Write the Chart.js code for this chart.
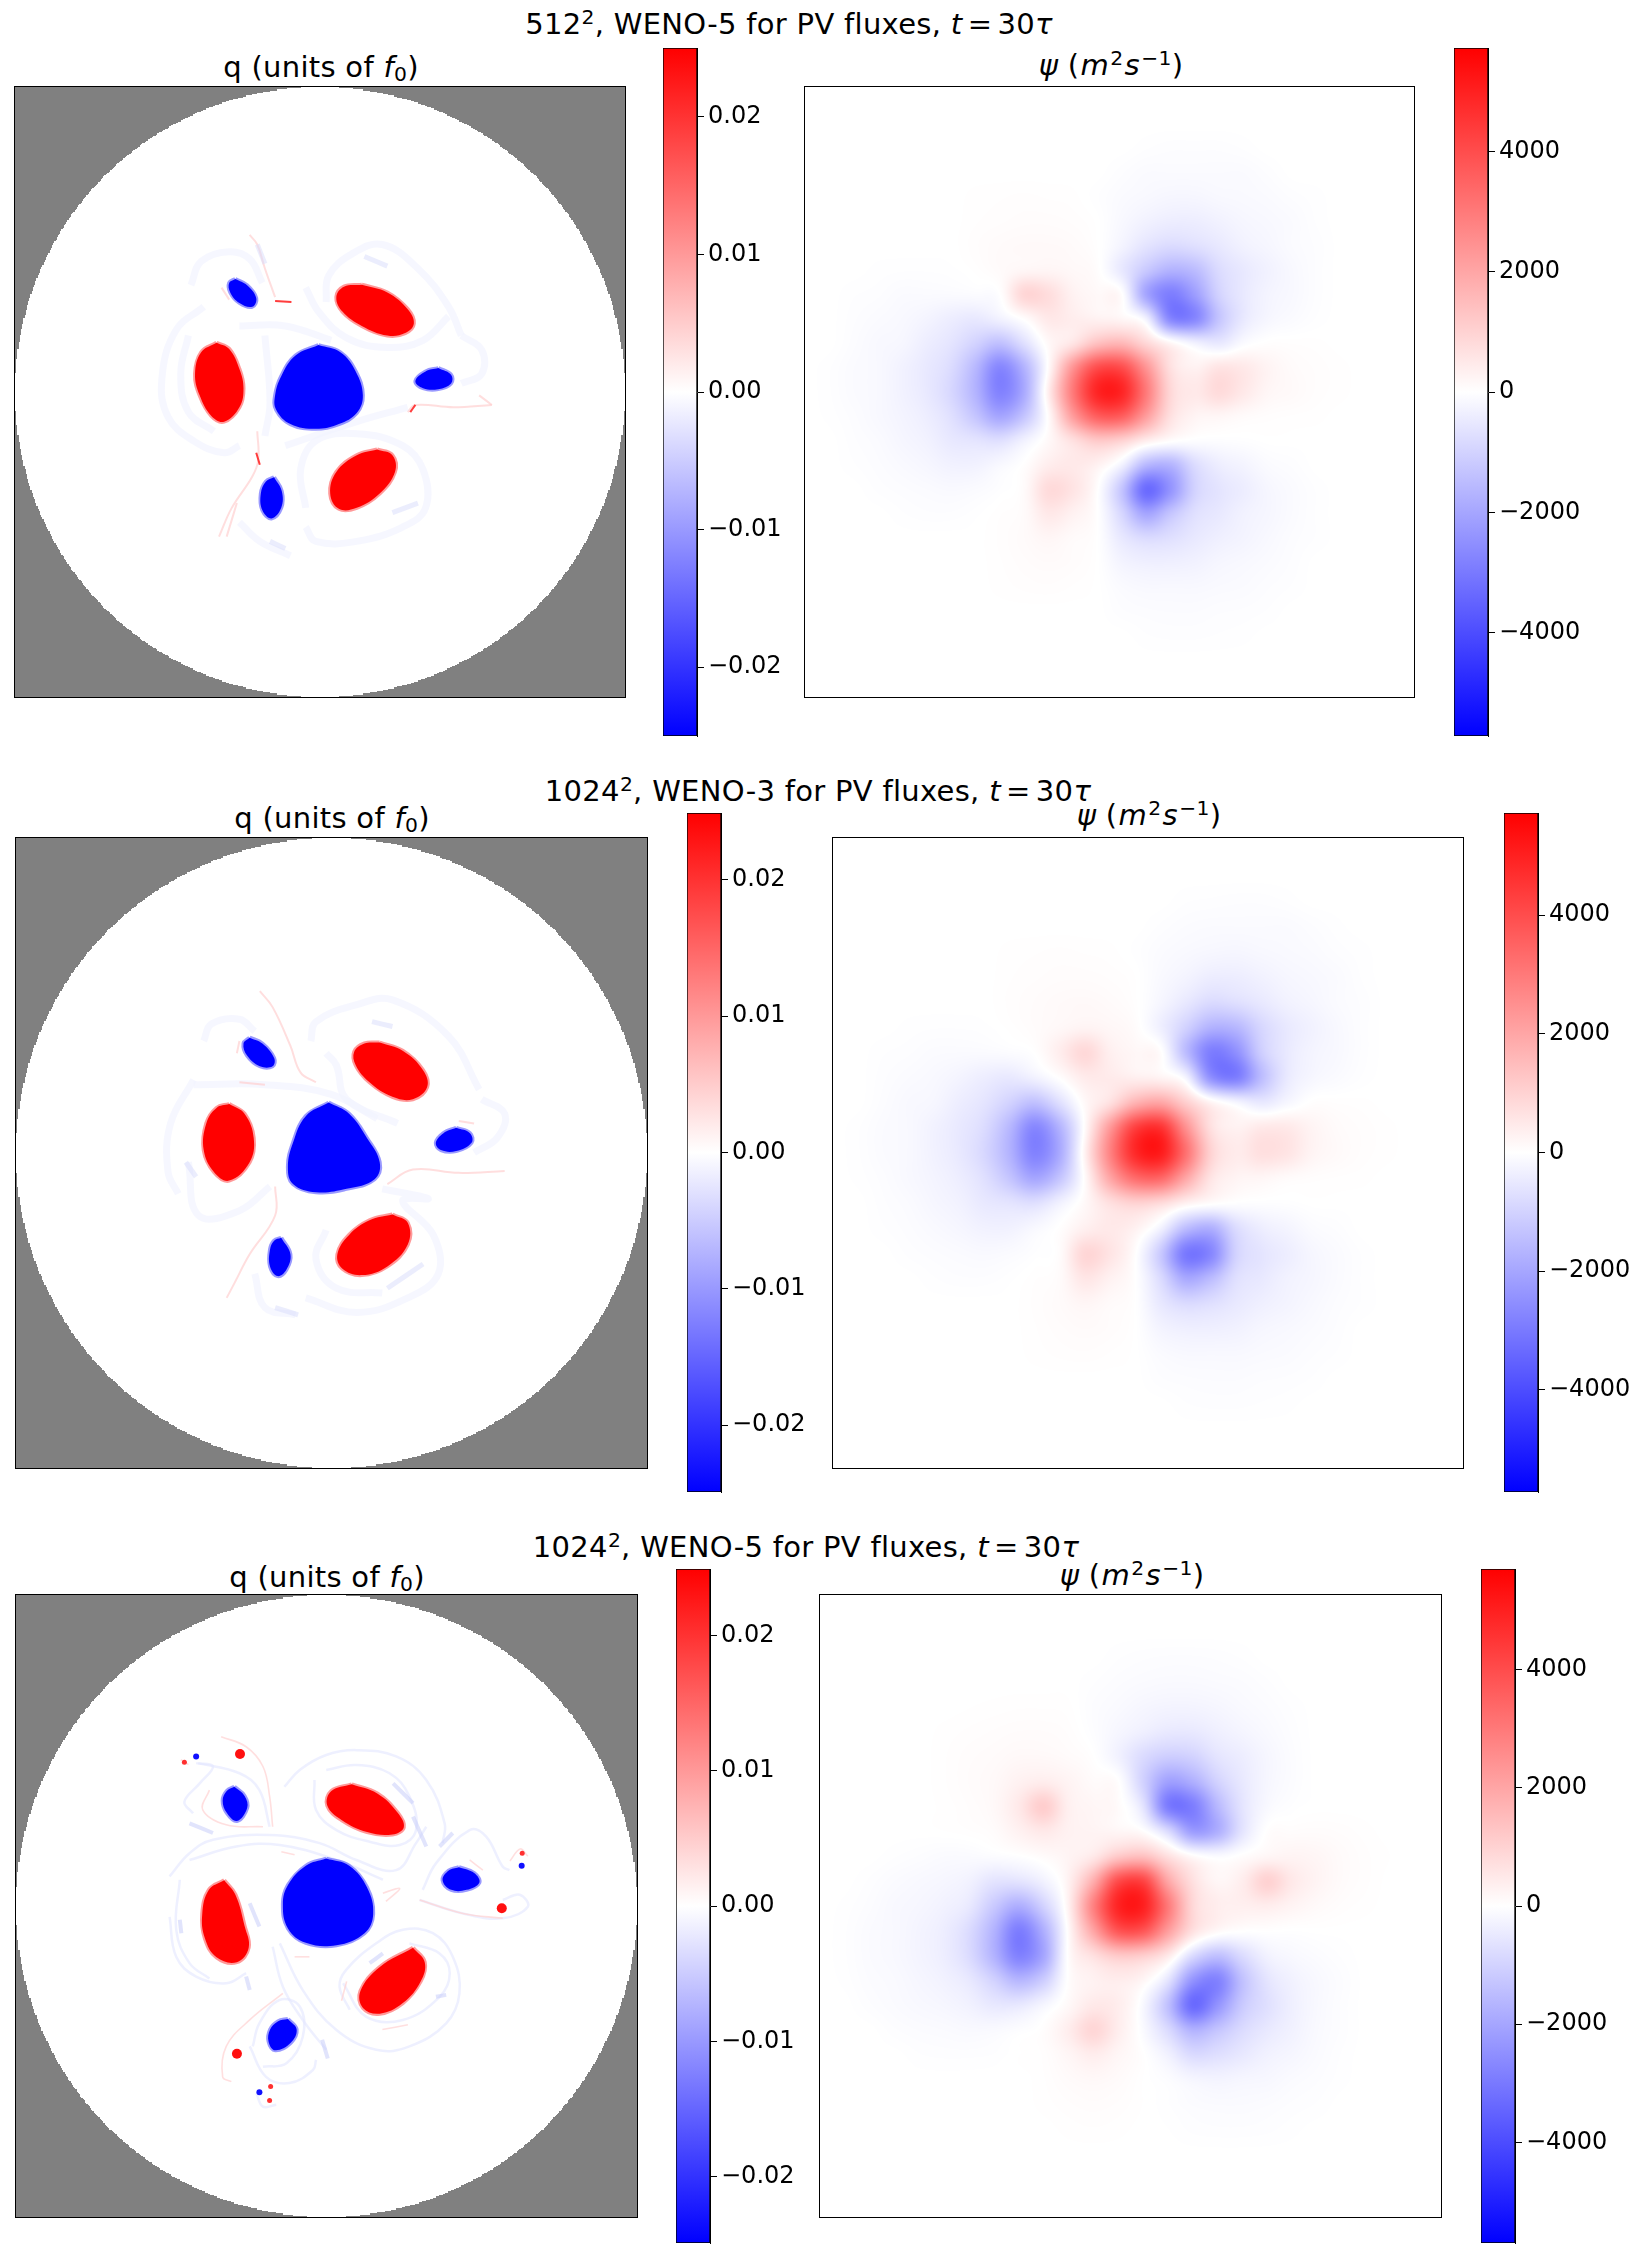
<!DOCTYPE html>
<html>
<head>
<meta charset="utf-8">
<title>PV and streamfunction</title>
<script src="https://cdn.jsdelivr.net/npm/chart.js@4"></script>
<style>
html, body { margin: 0; background: #fff; }
#fig { position: relative; width: 1643px; height: 2255px; overflow: hidden; font-family: "DejaVu Sans", sans-serif; color: #000; }
#fig canvas { position: absolute; }
.txt { position: absolute; transform: translate(-50%, -50%); white-space: nowrap; line-height: 1; }
.big { font-size: 29px; letter-spacing: .3px; }
.txt i { font-style: oblique; }
.txt i.m { margin: 0 .04em; }
.txt b { font-weight: normal; margin: 0 .18em; }
.txt sup { font-size: 70%; line-height: 0; vertical-align: baseline; position: relative; top: -.5em; }
.txt sub { font-size: 70%; line-height: 0; vertical-align: baseline; position: relative; top: .2em; }
</style>
</head>
<body>
<div id="fig"></div>
<script>

// colorbar ticks
var qTicks = [-0.02, -0.01, 0, 0.01, 0.02];
var qTickLabels = ['\u22120.02', '\u22120.01', '0.00', '0.01', '0.02'];
var psiTicks = [-4000, -2000, 0, 2000, 4000];
var psiTickLabels = ['\u22124000', '\u22122000', '0', '2000', '4000'];

// psi grid positions, fractions of the panel (x right, y down)
var gridX = [.04,.08,.12,.16,.20,.24,.28,.32,.36,.40,.44,.48,.52,.56,.60,.64,.68,.72,.76,.80,.84,.88,.92];
var gridY = [.06,.10,.14,.18,.22,.26,.30,.34,.38,.42,.46,.50,.54,.58,.62,.66,.70,.74,.78,.82,.86,.90,.94];

// psi, in units of 100 m2/s
var psi1 = [
[0,0,0,0,0,0,0,0,0,0,0,0,0,0,0,0,0,0,0,0,0,0,0],
[0,0,0,0,0,0,0,0,0,0,0,0,0,-.3,-.5,-.5,-.5,-.3,0,0,0,0,0],
[0,0,0,0,0,0,0,0,0,0,0,0,-.5,-1,-1,-1,-1,-1,-.5,0,0,0,0],
[0,0,0,0,0,0,.2,.3,.4,.3,.2,-.3,-1,-1.5,-2,-2,-1.5,-1.3,-1,-.5,-.2,0,0],
[0,0,0,0,0,0,.3,.5,.7,.7,.5,0,-1.5,-3,-4,-4,-3,-2,-1.5,-1,-.3,0,0],
[0,0,0,0,0,0,.5,1,1.3,1.3,1,.1,-2.5,-6,-8,-7,-5,-3,-2,-1,-.5,0,0],
[0,0,-.2,-.3,-.3,-.2,.2,1,2,2.2,1.5,.5,-5,-12,-17,-15,-8,-5,-3,-1.5,-.5,0,0],
[0,-.3,-.5,-1,-1,-1,-.8,0,9,7.5,3,1.5,.3,-20,-29,-22,-10,-5,-2.5,-1.5,-.5,0,0],
[0,-.5,-1,-1.5,-2.5,-4,-5,-3,.5,5,4,3,2,-3,-27,-27,-13,-5,-2,-1,-.3,0,0],
[0,-.7,-1.5,-2,-4,-6,-10,-14,-7,1.5,6,14,16,9,2,-3,-5,-1,.3,.3,.2,0,0],
[-.3,-1,-1.5,-3,-5,-8,-16,-27,-17,1,24,40,40,24,7,3,6,5,2.5,1,.5,.2,0],
[-.3,-1,-1.5,-3,-5,-9,-17,-28,-19,4,30,49,49,30,9,5,8,5,2,1.2,.5,.2,0],
[-.2,-.7,-1.5,-2.5,-4,-7,-13,-20,-13,1,22,36,36,22,7,2.5,2,1,.5,.3,.2,0,0],
[0,-.5,-1,-2,-3,-5,-6,-7,-3,1.5,7,12,10,4,.5,-.5,-.5,-.3,0,0,0,0,0],
[0,-.3,-.7,-1.3,-2,-3,-3,-1.5,.3,4,5,3,-3,-16,-17,-8,-4,-2.5,-1,-.5,0,0,0],
[0,0,-.4,-.7,-1,-1.3,-1,-.3,1,8,6,.3,-13,-33,-24,-10,-6,-4,-2,-1,-.3,0,0],
[0,0,0,-.3,-.5,-.5,-.2,.3,1,5,3,.1,-9,-20,-13,-7,-5,-3,-2,-1,-.3,0,0],
[0,0,0,0,0,0,0,.4,1,2,1,0,-5,-8,-7,-5,-3.5,-2.5,-1.5,-.7,-.3,0,0],
[0,0,0,0,0,0,0,.3,.7,1,.7,0,-2.5,-3.5,-3.5,-3,-2,-1.5,-1,-.5,0,0,0],
[0,0,0,0,0,0,0,.2,.4,.5,.3,0,-1,-1.5,-1.5,-1.5,-1.2,-1,-.6,-.3,0,0,0],
[0,0,0,0,0,0,0,0,0,0,0,0,-.5,-.7,-.8,-.8,-.6,-.5,-.3,0,0,0,0],
[0,0,0,0,0,0,0,0,0,0,0,0,0,-.3,-.4,-.4,-.3,-.2,0,0,0,0,0],
[0,0,0,0,0,0,0,0,0,0,0,0,0,0,0,0,0,0,0,0,0,0,0]
];
var psi2 = [
[0,0,0,0,0,0,0,0,0,0,0,0,0,0,0,0,0,0,0,0,0,0,0],
[0,0,0,0,0,0,0,0,0,0,0,0,0,-.3,-.4,-.5,-.5,-.3,0,0,0,0,0],
[0,0,0,0,0,0,0,0,0,0,0,0,-.4,-.8,-1,-1,-1,-1,-.6,-.2,0,0,0],
[0,0,0,0,0,0,.2,.3,.4,.3,.2,-.2,-.9,-1.4,-1.8,-2,-1.6,-1.3,-1,-.5,-.2,0,0],
[0,0,0,0,0,0,.3,.5,.7,.7,.5,.1,-1.3,-2.5,-4,-4,-3,-2,-1.5,-1,-.3,0,0],
[0,0,0,0,0,0,.4,.8,1.2,1.4,1,.2,-2,-5,-8,-7,-5,-3,-2,-1,-.5,0,0],
[0,0,-.2,-.3,-.3,-.2,.2,.8,1.6,2.5,1.8,.7,-3.5,-10,-17,-16,-9,-5,-3,-1.5,-.5,0,0],
[0,-.3,-.5,-.9,-1,-1,-.7,.1,4,8.5,3.5,1.8,.5,-15,-29,-25,-11,-5,-2.5,-1.5,-.5,0,0],
[0,-.5,-1,-1.5,-2.5,-4,-5,-3,.4,4.5,4.5,3.5,2.5,-2.5,-25,-29,-15,-5,-2,-1,-.3,0,0],
[0,-.7,-1.5,-2,-4,-6,-10,-14,-7,1.5,7,17,20,11,2.5,-2,-5,-2,.3,.3,.2,0,0],
[-.3,-1,-1.5,-3,-5,-8,-16,-27,-17,1,23,43,46,25,7,3,5,5,2.5,1,.5,.2,0],
[-.3,-1,-1.5,-3,-5,-9,-17,-28,-19,3,28,48,51,32,10,4.5,7,6,2.5,1.2,.5,.2,0],
[-.2,-.7,-1.5,-2.5,-4,-7,-13,-20,-13,1,20,33,34,20,6,2.5,2,1,.5,.3,.2,0,0],
[0,-.5,-1,-2,-3,-5,-6,-7,-3,1.5,7,10,8,3,.5,-.3,-.4,-.3,0,0,0,0,0],
[0,-.3,-.7,-1.3,-2,-3,-3,-1.5,.3,3.5,5,3,-3,-15,-18,-8,-4,-2.5,-1,-.5,0,0,0],
[0,0,-.4,-.7,-1,-1.3,-1,-.3,.8,9,6,.3,-12,-30,-27,-10,-6,-4,-2,-1,-.3,0,0],
[0,0,0,-.3,-.5,-.5,-.2,.3,1,5.5,3,.1,-8,-19,-15,-7,-5,-3,-2,-1,-.3,0,0],
[0,0,0,0,0,0,0,.4,1,2,1,0,-5,-8,-7,-5,-3.5,-2.5,-1.5,-.7,-.3,0,0],
[0,0,0,0,0,0,0,.3,.7,1,.7,0,-2.5,-3.5,-3.5,-3,-2,-1.5,-1,-.5,0,0,0],
[0,0,0,0,0,0,0,.2,.4,.5,.3,0,-1,-1.5,-1.5,-1.5,-1.2,-1,-.6,-.3,0,0,0],
[0,0,0,0,0,0,0,0,0,0,0,0,-.5,-.7,-.8,-.8,-.6,-.5,-.3,0,0,0,0],
[0,0,0,0,0,0,0,0,0,0,0,0,0,-.3,-.4,-.4,-.3,-.2,0,0,0,0,0],
[0,0,0,0,0,0,0,0,0,0,0,0,0,0,0,0,0,0,0,0,0,0,0]
];
var psi3 = [
[0,0,0,0,0,0,0,0,0,0,0,0,0,0,0,0,0,0,0,0,0,0,0],
[0,0,0,0,0,0,0,0,0,0,0,-.3,-.5,-.6,-.6,-.5,-.3,0,0,0,0,0,0],
[0,0,0,0,0,0,0,0,0,0,-.3,-.7,-1,-1.2,-1.2,-1,-.8,-.4,0,0,0,0,0],
[0,0,0,0,0,.1,.2,.3,.3,.2,-.6,-1.2,-2,-2.5,-2.5,-2,-1.3,-.8,-.3,0,0,0,0],
[0,0,0,0,.2,.4,.6,.8,.8,.5,-.5,-2,-3.5,-5,-5,-3.5,-2.3,-1.3,-.5,0,0,0,0],
[0,0,0,0,.3,.7,1,1.5,1.5,1,.1,-3,-8,-11,-10,-6,-4,-2,-.7,0,0,0,0],
[0,0,0,0,.3,.8,1.4,3,4,2.5,1,.2,-10,-21,-18,-10,-5,-2,-.7,0,0,0,0],
[0,0,0,0,.2,.6,1.5,5,11,3.5,2,1,-6,-29,-29,-16,-6,-1.5,-.3,0,0,0,0],
[0,0,0,0,.1,.3,.8,3,5,3,2.5,2,.5,-8,-22,-18,-6,.2,.6,.7,.5,.2,0],
[0,0,-.3,-.6,-1,-1,-.7,-.2,1,2.5,5,12,14,7,1,-1,.5,2,2.5,2,1,.4,.1],
[0,-.4,-1,-1.5,-2,-3,-6,-6,-3,3,18,40,42,20,7,2,4,10,5,2.5,1,.4,0],
[-.2,-.7,-1.5,-2,-3,-5,-12,-18,-10,3,28,49,50,30,9,4,3.5,4,2.5,1.2,.5,.2,0],
[-.3,-1,-1.5,-2.5,-4,-8,-17,-29,-18,1,20,38,38,22,7,1.5,.1,.1,-.1,0,0,0,0],
[-.3,-1,-1.5,-2.5,-4,-8,-17,-28,-20,.5,7,12,11,5,-8,-14,-8,-3,-1.5,-.8,-.3,0,0],
[-.2,-.8,-1.2,-2,-3,-5,-10,-16,-11,.3,3,4,2,-6,-24,-28,-14,-6,-3,-1.5,-.6,0,0],
[0,-.5,-1,-1.5,-2,-3,-5,-5,-2,1.5,5,4,-1.5,-14,-33,-24,-12,-7,-3.5,-1.5,-.5,0,0],
[0,0,-.5,-.8,-1,-1.3,-1.2,-.5,.5,4,9,4,-1,-8,-17,-13,-8,-5,-3,-1.3,-.5,0,0],
[0,0,0,-.3,-.4,-.4,-.3,.1,.4,2,4,2,.2,-3,-8,-7,-5,-3,-2,-1,-.3,0,0],
[0,0,0,0,0,0,0,0,.3,1,1.5,1,.1,-.6,-2,-2.5,-2,-1.7,-1,-.6,-.2,0,0],
[0,0,0,0,0,0,0,0,.2,.5,.7,.5,.1,-.3,-.8,-1,-1,-.8,-.5,-.3,0,0,0],
[0,0,0,0,0,0,0,0,0,.2,.3,.2,0,-.1,-.4,-.5,-.5,-.4,-.2,0,0,0,0],
[0,0,0,0,0,0,0,0,0,0,0,0,0,0,0,0,0,0,0,0,0,0,0],
[0,0,0,0,0,0,0,0,0,0,0,0,0,0,0,0,0,0,0,0,0,0,0]
];

// q, digitised outlines and filaments. panel ranges are in qRanges below
var q1Blue = [
[[625,720],[668,735],[698,775],[712,825],[700,862],[665,885],[620,895],[570,885],[542,855],[540,825],[552,785],[580,742]],
[[462,582],[485,595],[503,622],[495,640],[470,632],[452,610],[450,590]],
[[860,768],[885,782],[885,800],[860,812],[830,810],[815,795],[835,775]],
[[538,996],[553,1025],[552,1060],[533,1082],[515,1065],[512,1030],[522,1005]]
];
var q1Red = [
[[425,715],[450,728],[470,770],[478,810],[470,850],[440,880],[415,868],[392,825],[383,780],[395,735]],
[[710,594],[760,610],[800,645],[812,675],[795,695],[760,700],[710,680],[672,650],[660,620],[675,598]],
[[740,938],[770,950],[775,985],[745,1030],[700,1060],[665,1062],[648,1030],[660,985],[700,950]]
];
var q1Haze = [
[[400,640],[345,690],[318,790],[330,870],[380,920],[440,945],[470,930]],
[[370,700],[355,780],[370,860],[420,900]],
[[375,595],[395,545],[450,525],[490,540],[515,590]],
[[640,630],[645,575],[690,530],[750,510],[820,560],[880,640],[905,700]],
[[600,600],[625,650],[680,705],[760,725],[830,710],[880,660]],
[[905,700],[945,730],[945,780],[905,800]],
[[600,1100],[620,1130],[700,1130],[790,1100],[835,1060],[830,980],[790,930],[700,905],[620,920],[590,980],[600,1060]],
[[470,680],[560,680],[650,710]],
[[520,700],[530,840],[520,910]],
[[560,930],[700,880],[800,850]],
[[470,1090],[510,1130],[570,1160]]
];
var q1Pink = [
[[490,490],[505,510],[520,560],[540,620]],
[[505,900],[507,960],[495,995],[455,1060],[430,1120]],
[[800,860],[815,845],[890,850],[965,845]],
[[940,825],[965,845]],
[[435,600],[450,625]],
[[465,1050],[445,1120]]
];
var q1Dark = [
[[715,535],[760,555]],
[[770,1070],[820,1050]],
[[530,1130],[560,1145]],
[[505,510],[520,550]]
];
var q1Strong = [
[[540,628],[572,630]],
[[503,945],[510,970]],
[[805,860],[815,845]]
];

var q2Blue = [
[[645,727],[685,750],[720,800],[745,850],[735,885],[680,905],[620,912],[575,895],[565,860],[575,810],[600,755]],
[[490,593],[515,605],[538,635],[535,652],[510,652],[485,630],[478,605]],
[[895,779],[922,790],[925,810],[895,827],[865,825],[855,810],[870,790]],
[[552,1006],[570,1040],[562,1072],[545,1085],[530,1065],[530,1030],[538,1012]]
];
var q2Red = [
[[450,730],[480,750],[498,800],[490,850],[450,888],[420,870],[400,825],[405,770],[425,738]],
[[745,603],[790,620],[830,660],[838,695],[810,720],[770,715],[725,685],[698,650],[695,622],[715,605]],
[[770,958],[800,975],[800,1020],[760,1065],[710,1083],[672,1070],[662,1040],[685,1000],[725,970]]
];
var q2Haze = [
[[400,600],[415,565],[470,555],[500,580]],
[[380,680],[335,770],[330,870],[350,915]],
[[370,850],[390,960],[470,950],[530,900]],
[[610,600],[620,560],[700,525],[770,515],[880,590],[940,700]],
[[640,625],[660,650],[680,720],[780,770]],
[[945,720],[990,750],[975,800],[930,830]],
[[500,1080],[520,1150],[580,1165]],
[[600,1130],[700,1160],[800,1130],[860,1080],[850,1000],[790,930],[840,925],[750,905]],
[[380,690],[520,690],[650,710],[740,760]],
[[640,990],[620,1050],[660,1110],[750,1120]]
];
var q2Pink = [
[[510,497],[535,530],[570,610],[590,665],[620,685]],
[[540,900],[540,960],[490,1040],[460,1100],[445,1130]],
[[760,895],[810,865],[900,872],[990,868]],
[[520,690],[470,685]],
[[470,600],[465,625]],
[[900,765],[930,770]]
];
var q2Dark = [
[[730,560],[770,570]],
[[760,1110],[830,1060]],
[[540,1150],[585,1165]],
[[365,850],[385,880]]
];
var q2Strong = [];

var q3Blue = [
[[640,745],[685,760],[720,805],[732,860],[715,900],[660,925],[600,920],[565,890],[555,840],[565,800],[600,760]],
[[460,596],[480,615],[485,640],[465,667],[445,650],[437,625],[445,605]],
[[900,763],[930,775],[940,795],[915,810],[885,810],[868,790],[880,770]],
[[565,1078],[582,1100],[570,1128],[540,1143],[527,1125],[530,1100],[545,1083]]
];
var q3Red = [
[[440,790],[462,820],[480,885],[488,930],[465,960],[425,950],[402,910],[397,860],[410,810]],
[[690,591],[740,610],[780,650],[792,680],[770,695],[720,690],[670,665],[642,635],[650,605]],
[[810,930],[833,960],[825,1000],[790,1045],[745,1067],[712,1055],[707,1020],[745,970]]
];
var q3Haze = [
[[558,596],[588,561],[640,530],[699,520],[777,533],[836,582],[872,672],[868,713]],
[[617,582],[620,644],[660,686],[725,710],[784,717],[816,686],[803,616],[764,568],[699,551],[640,561]],
[[333,782],[372,734],[418,706],[529,696],[627,713],[699,748],[777,769],[816,713],[836,679]],
[[372,748],[464,720],[549,717],[660,748],[751,789]],
[[333,866],[346,949],[385,990],[444,1004],[483,983]],
[[353,789],[346,893],[372,962],[411,994]],
[[535,928],[555,1011],[594,1080],[640,1142]],
[[549,921],[594,1018],[660,1101],[738,1142],[803,1135],[875,1087],[901,1025],[888,949],[849,900],[790,893],[738,921],[679,976],[666,1011],[686,1059]],
[[673,1004],[718,1073],[790,1080],[862,1032],[882,983],[862,942],[803,921]],
[[496,1135],[509,1087],[548,1039],[588,1052],[594,1115],[562,1170],[516,1177]],
[[490,1135],[522,1198],[568,1211],[614,1184],[620,1163]],
[[503,1232],[516,1260],[542,1256]],
[[385,547],[418,554],[392,589],[362,627],[379,651]],
[[389,547],[470,568],[509,603],[529,679]],
[[829,810],[855,755],[921,686],[953,699],[986,762],[999,769]],
[[823,831],[908,859],[986,869],[1035,845],[1019,820],[986,831]]
];
var q3Pink = [
[[434,492],[483,513],[516,554],[529,616],[535,679]],
[[411,603],[398,644],[444,675],[516,679]],
[[555,1025],[490,1080],[444,1135],[437,1198],[454,1208]],
[[823,831],[908,859],[986,869]],
[[552,731],[578,737]],
[[578,949],[607,949]],
[[751,817],[784,807],[757,834]],
[[921,748],[947,769]],
[[750,1100],[800,1090]],
[[680,1000],[670,1040]],
[[355,540],[370,550]],
[[1000,750],[1020,725],[1035,740]]
];
var q3Dark = [
[[771,589],[810,630]],
[[810,658],[836,720]],
[[855,1032],[875,1028]],
[[725,962],[751,942]],
[[483,990],[490,1018]],
[[888,692],[862,720]],
[[490,838],[509,886]],
[[353,872],[356,900]],
[[632,1121],[643,1160]],
[[372,672],[418,692]]
];
var q3Strong = [];
var q3DotsRed = [[471,528],[465,1150],[984,848]];
var q3SpecksRed = [[362,545],[529,1247],[1024,734],[531,1218]];
var q3SpecksBlue = [[385,533],[1023,760],[509,1230]];

// digitised ranges of the three q panels: x left, x right, y top, y bottom
var qRanges = [[30,1226,181,1455], [32,1269,181,1481], [32,1249,198,1489]];

var qMax = [0.025, 0.0249, 0.0249];
var psiMax = [5720, 5720, 5700];

// figure layout
var rows = [
    {qBox: [15, 87, 610, 610], qBar: [663, 48, 34, 688], psiBox: [805, 87, 609, 610], psiBar: [1454, 48, 34, 688],
     sup: '512<sup>2</sup>, WENO-5 for PV fluxes, <i>t</i><b>=</b>30<i>τ</i>', supAt: [789, 24], qAt: [321, 67], psiAt: [1111, 65]},
    {qBox: [16, 838, 631, 630], qBar: [687, 813, 34, 679], psiBox: [833, 838, 630, 630], psiBar: [1504, 813, 34, 679],
     sup: '1024<sup>2</sup>, WENO-3 for PV fluxes, <i>t</i><b>=</b>30<i>τ</i>', supAt: [818, 791], qAt: [332, 818], psiAt: [1149, 815]},
    {qBox: [16, 1595, 621, 622], qBar: [676, 1569, 34, 674], psiBox: [820, 1595, 621, 622], psiBar: [1481, 1569, 34, 674],
     sup: '1024<sup>2</sup>, WENO-5 for PV fluxes, <i>t</i><b>=</b>30<i>τ</i>', supAt: [806, 1547], qAt: [327, 1577], psiAt: [1132, 1575]}
];

var fig = document.getElementById('fig');
Chart.defaults.font.family = '"DejaVu Sans", sans-serif';
Chart.defaults.animation = false;

function addCanvas(left, top, w, h) {
    var c = document.createElement('canvas');
    c.width = w;
    c.height = h;
    c.style.left = left + 'px';
    c.style.top = top + 'px';
    c.style.width = w + 'px';
    c.style.height = h + 'px';
    fig.appendChild(c);
    return c;
}

function addText(html, at) {
    var d = document.createElement('div');
    d.className = 'txt big';
    d.innerHTML = html;
    d.style.left = at[0] + 'px';
    d.style.top = at[1] + 'px';
    fig.appendChild(d);
}

function toXY(pts) {
    return pts.map(function (p) { return {x: p[0], y: p[1]}; });
}

function lineSets(list, color, width) {
    return list.map(function (pts) {
        return {data: toXY(pts), showLine: true, pointRadius: 0, borderColor: color, borderWidth: width, tension: 0.4, fill: false};
    });
}

function blobSets(list, color, edge) {
    return list.map(function (pts) {
        return {data: toXY(pts.concat([pts[0]])), showLine: true, pointRadius: 0, borderColor: edge, borderWidth: 4,
                tension: 0.4, fill: 'shape', backgroundColor: color};
    });
}

function dotSet(pts, color, r) {
    return {data: toXY(pts), showLine: false, pointRadius: r, pointBorderWidth: 0, backgroundColor: color, pointBackgroundColor: color};
}

// frame around the plot area
var framePlugin = {
    id: 'frame',
    afterDraw: function (chart) {
        var a = chart.chartArea, ctx = chart.ctx;
        ctx.save();
        ctx.strokeStyle = '#000';
        ctx.lineWidth = 1;
        ctx.strokeRect(a.left - 0.5, a.top - 0.5, a.width + 1, a.height + 1);
        ctx.restore();
    }
};

// gray outside the circular domain, one row per model cell
var maskPlugin = {
    id: 'mask',
    beforeDatasetsDraw: function (chart) {
        var a = chart.chartArea, ctx = chart.ctx, n = 512;
        var x = chart.scales.x, y = chart.scales.y;
        var cx = (x.min + x.max) / 2, rx = (x.max - x.min) / 2;
        var cy = (y.min + y.max) / 2, ry = (y.max - y.min) / 2;
        ctx.save();
        ctx.fillStyle = '#808080';
        ctx.fillRect(a.left, a.top, a.width, a.height);
        ctx.fillStyle = '#fff';
        for (var i = 0; i < n; i++) {
            var f = (i + 0.5) / n * 2 - 1;
            var half = Math.round(Math.sqrt(1 - f * f) * n / 2) / (n / 2);
            var top = Math.round(y.getPixelForValue(cy + ry * (i / n * 2 - 1)));
            var bot = Math.round(y.getPixelForValue(cy + ry * ((i + 1) / n * 2 - 1)));
            var l = Math.round(x.getPixelForValue(cx - rx * half));
            var r = Math.round(x.getPixelForValue(cx + rx * half));
            ctx.fillRect(l, top, r - l, bot - top);
        }
        ctx.restore();
    }
};

function cubic(a, b, c, d, t) {
    return b + 0.5 * t * (c - a + t * (2 * a - 5 * b + 4 * c - d + t * (3 * (b - c) + d - a)));
}

// paints the gridded dataset, smoothing the values (not the colours)
function fieldPlugin(vmax) {
    return {
        id: 'field',
        beforeDatasetsDraw: function (chart) {
            var a = chart.chartArea, x = chart.scales.x, y = chart.scales.y;
            var pts = chart.data.datasets[0].data;
            var nx = gridX.length, ny = gridY.length;
            var dx = gridX[1] - gridX[0], dy = gridY[1] - gridY[0];
            function at(j, i) {
                if (j < 0 || i < 0 || j >= nx || i >= ny) return 0;
                return pts[i * nx + j].v;
            }
            function rowAt(j, i, t) {
                return cubic(at(j - 1, i), at(j, i), at(j + 1, i), at(j + 2, i), t);
            }
            var off = document.createElement('canvas');
            var W = Math.round(a.width), H = Math.round(a.height);
            off.width = W;
            off.height = H;
            var octx = off.getContext('2d');
            var img = octx.createImageData(W, H);
            for (var py = 0; py < H; py++) {
                var gy = (y.getValueForPixel(a.top + py + 0.5) - gridY[0]) / dy;
                var i0 = Math.floor(gy), ty = gy - i0;
                for (var px = 0; px < W; px++) {
                    var gx = (x.getValueForPixel(a.left + px + 0.5) - gridX[0]) / dx;
                    var j0 = Math.floor(gx), tx = gx - j0;
                    var v = cubic(rowAt(j0, i0 - 1, tx), rowAt(j0, i0, tx), rowAt(j0, i0 + 1, tx), rowAt(j0, i0 + 2, tx), ty);
                    var t = Math.max(-1, Math.min(1, v * 100 / vmax));
                    var k = (py * W + px) * 4;
                    var s = Math.round(255 * (1 - Math.abs(t)));
                    img.data[k] = t < 0 ? s : 255;
                    img.data[k + 1] = s;
                    img.data[k + 2] = t > 0 ? s : 255;
                    img.data[k + 3] = 255;
                }
            }
            octx.putImageData(img, 0, 0);
            chart.ctx.drawImage(off, a.left, a.top);
        }
    };
}

function hiddenScales(xr, yr, reverseY) {
    return {
        x: {type: 'linear', display: false, min: xr[0], max: xr[1]},
        y: {type: 'linear', display: false, min: yr[0], max: yr[1], reverse: reverseY}
    };
}

function baseOptions(scales) {
    return {
        responsive: false,
        devicePixelRatio: 1,
        layout: {padding: 1, autoPadding: false},
        plugins: {legend: {display: false}, tooltip: {enabled: false}},
        scales: scales
    };
}

function drawQ(box, range, sets) {
    var c = addCanvas(box[0] - 1, box[1] - 1, box[2] + 2, box[3] + 2);
    new Chart(c, {
        type: 'scatter',
        data: {datasets: sets},
        options: baseOptions(hiddenScales([range[0], range[1]], [range[2], range[3]], true)),
        plugins: [maskPlugin, framePlugin]
    });
}

function drawPsi(box, values, vmax) {
    var pts = [];
    values.forEach(function (row, i) {
        row.forEach(function (v, j) { pts.push({x: gridX[j], y: gridY[i], v: v}); });
    });
    var c = addCanvas(box[0] - 1, box[1] - 1, box[2] + 2, box[3] + 2);
    new Chart(c, {
        type: 'scatter',
        data: {datasets: [{data: pts, pointRadius: 0}]},
        options: baseOptions(hiddenScales([0, 1], [0, 1], true)),
        plugins: [fieldPlugin(vmax), framePlugin]
    });
}

function drawBar(bar, vmax, ticks, labels) {
    var room = 115, pad = 2;
    var c = addCanvas(bar[0] - 1, bar[1] - pad, bar[2] + 1 + room, bar[3] + 2 * pad);
    new Chart(c, {
        type: 'bar',
        data: {
            labels: [''],
            datasets: [{
                data: [[-vmax, vmax]],
                barPercentage: 1,
                categoryPercentage: 1,
                borderColor: '#000',
                borderWidth: 1,
                borderSkipped: false,
                backgroundColor: function (ctx) {
                    var a = ctx.chart.chartArea;
                    if (!a) return '#fff';
                    var g = ctx.chart.ctx.createLinearGradient(0, a.bottom, 0, a.top);
                    g.addColorStop(0, '#0000ff');
                    g.addColorStop(0.5, '#ffffff');
                    g.addColorStop(1, '#ff0000');
                    return g;
                }
            }]
        },
        options: {
            responsive: false,
            devicePixelRatio: 1,
            layout: {padding: {left: 1, top: pad, bottom: pad, right: 0}, autoPadding: false},
            plugins: {legend: {display: false}, tooltip: {enabled: false}},
            scales: {
                x: {display: false},
                y: {
                    position: 'right',
                    min: -vmax,
                    max: vmax,
                    afterFit: function (ax) {
                        ax.width = room;
                        ax.paddingTop = 0;
                        ax.paddingBottom = 0;
                    },
                    afterBuildTicks: function (ax) {
                        ax.ticks = ticks.map(function (v) { return {value: v}; });
                    },
                    border: {display: true, color: '#000'},
                    grid: {drawOnChartArea: false, drawTicks: true, tickLength: 7, tickColor: '#000', tickWidth: 1},
                    ticks: {
                        color: '#000',
                        padding: 4,
                        autoSkip: false,
                        maxRotation: 0,
                        font: {size: 24},
                        callback: function (v) { return labels[ticks.indexOf(v)]; }
                    }
                }
            }
        }
    });
}

var qSets = [
    blobSets(q1Blue, '#0000ff', 'rgba(0,0,255,.4)').concat(blobSets(q1Red, '#ff0000', 'rgba(255,0,0,.4)'),
        lineSets(q1Strong, 'rgba(255,40,40,.9)', 2), lineSets(q1Dark, 'rgba(215,220,252,.5)', 5),
        lineSets(q1Pink, 'rgba(255,205,205,.65)', 2), lineSets(q1Haze, 'rgba(242,244,255,.7)', 7)),
    blobSets(q2Blue, '#0000ff', 'rgba(0,0,255,.4)').concat(blobSets(q2Red, '#ff0000', 'rgba(255,0,0,.4)'),
        lineSets(q2Strong, 'rgba(255,40,40,.9)', 2), lineSets(q2Dark, 'rgba(215,220,252,.5)', 5),
        lineSets(q2Pink, 'rgba(255,205,205,.65)', 2), lineSets(q2Haze, 'rgba(242,244,255,.7)', 7)),
    [dotSet(q3DotsRed, '#ff1010', 5), dotSet(q3SpecksRed, '#ff3030', 2.5), dotSet(q3SpecksBlue, '#1010ff', 3)].concat(
        blobSets(q3Blue, '#0000ff', 'rgba(0,0,255,.4)'), blobSets(q3Red, '#ff0000', 'rgba(255,0,0,.4)'),
        lineSets(q3Strong, 'rgba(255,40,40,.9)', 2), lineSets(q3Dark, 'rgba(200,205,250,.55)', 4),
        lineSets(q3Pink, 'rgba(255,210,210,.7)', 1.6), lineSets(q3Haze, 'rgba(226,230,255,.6)', 2.5))
];
var psiData = [psi1, psi2, psi3];

rows.forEach(function (r, n) {
    addText(r.sup, r.supAt);
    addText('q (units of <i>f</i><sub>0</sub>)', r.qAt);
    addText('<i>ψ</i> (<i class="m">m</i><sup>2</sup><i class="m">s</i><sup>−1</sup>)', r.psiAt);
    drawQ(r.qBox, qRanges[n], qSets[n]);
    drawBar(r.qBar, qMax[n], qTicks, qTickLabels);
    drawPsi(r.psiBox, psiData[n], psiMax[n]);
    drawBar(r.psiBar, psiMax[n], psiTicks, psiTickLabels);
});

</script>
</body>
</html>
